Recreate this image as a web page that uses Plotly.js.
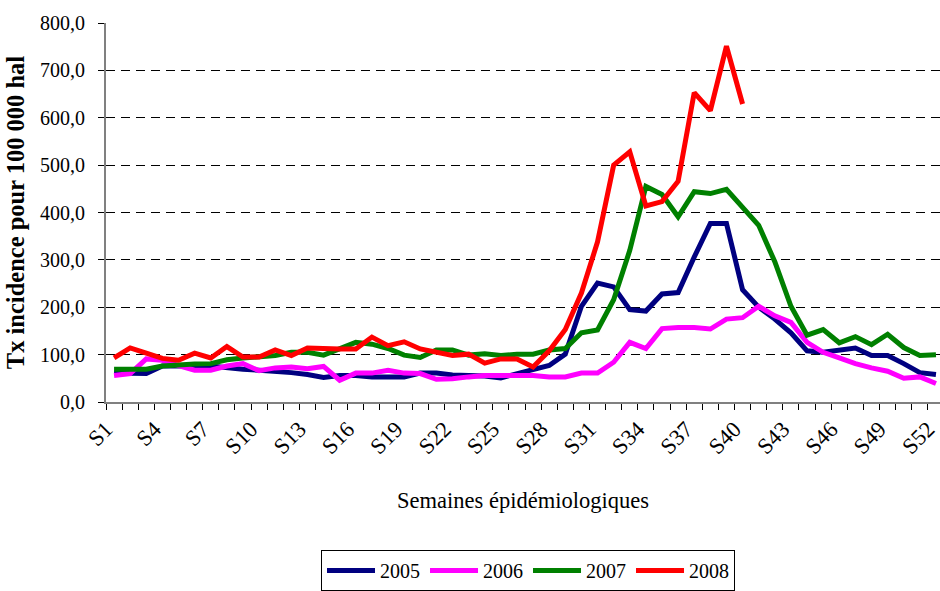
<!DOCTYPE html>
<html>
<head>
<meta charset="utf-8">
<script src="https://cdn.plot.ly/plotly-3.0.1.min.js"></script>
<style>html,body{margin:0;padding:0;background:#fff;}#chart{width:940px;height:591px;}</style>
</head>
<body>
<div id="chart"></div>
<script>
var weeks = [];
for (var w = 1; w <= 52; w++) weeks.push('S' + w);

var y2005 = [61,61,60,76,77,76,76,72,69,67,65,62,58,52,56,56,53,54,53,61,61,57,57,55,51,60,67,77,101,202,251,243,195,192,228,231,306,377,377,237,200,175,146,108,105,110,114,98,98,81,62,58];
var y2006 = [56,60,91,88,77,67,67,76,81,66,72,74,70,75,46,61,61,67,61,60,48,49,53,56,56,56,56,53,53,61,61,84,126,113,155,157,157,154,175,178,202,182,168,126,105,93,81,72,65,50,53,39];
var y2007 = [69,69,69,76,79,80,81,89,93,96,98,105,105,99,112,126,122,113,99,94,110,110,99,102,98,101,101,110,113,146,152,216,320,455,438,391,444,440,449,410,373,296,202,141,153,125,138,121,143,115,98,100];
var y2008 = [93,114,103,92,88,103,93,117,95,95,110,98,114,112,112,112,137,119,127,112,104,98,101,82,91,91,74,108,153,230,338,500,528,414,423,466,653,615,751,629,null,null,null,null,null,null,null,null,null,null,null,null];

var seriesNames = ['2005','2006','2007','2008'];
var seriesValues = [y2005, y2006, y2007, y2008];
var seriesColors = ['#000080','#FF00FF','#008000','#FF0000'];

// every third week is labelled
var tickText = weeks.map(function(s, i){ return i % 3 === 0 ? s : ''; });

var traces = seriesNames.map(function(n, i){
  return {
    type: 'scatter', mode: 'lines', name: n,
    x: weeks, y: seriesValues[i],
    line: {color: seriesColors[i], width: 5},
    connectgaps: false
  };
});

var font = 'Liberation Serif, Times New Roman, serif';
var layout = {
  width: 940, height: 591,
  margin: {l: 106, r: 0, t: 23, b: 184},
  paper_bgcolor: '#fff', plot_bgcolor: '#fff',
  separators: ', ',
  font: {family: font, size: 20, color: '#000'},
  showlegend: true,
  legend: {
    orientation: 'h', x: 0.506, xanchor: 'center', y: -0.392, yanchor: 'top',
    bordercolor: '#000', borderwidth: 1, font: {family: font, size: 20, color: '#000'},
    itemwidth: 48, tracegroupgap: 0
  },
  xaxis: {
    type: 'category', range: [-0.5, 51.25],
    tickmode: 'array', tickvals: weeks, ticktext: tickText,
    tickson: 'boundaries', ticks: 'outside', ticklen: 6, tickwidth: 1, tickcolor: '#000',
    tickangle: -45, ticklabelshift: -8, ticklabelstandoff: 3,
    tickfont: {family: font, size: 22.5, color: '#000'},
    showgrid: false, zeroline: false,
    showline: true, linecolor: '#808080', linewidth: 2,
    title: {text: 'Semaines épidémiologiques', font: {family: font, size: 22.5, color: '#000'}, standoff: 34}
  },
  yaxis: {
    range: [0, 800], dtick: 100, tick0: 0, tickformat: '.1f',
    ticks: 'outside', ticklen: 6, tickwidth: 1, tickcolor: '#000', ticklabelstandoff: 9,
    tickfont: {family: font, size: 20, color: '#000'},
    showgrid: true, gridcolor: '#000', gridwidth: 1, griddash: '9px,6px',
    zeroline: false, showline: true, linecolor: '#808080', linewidth: 2,
    title: {text: 'Tx incidence pour 100 000 hal', font: {family: font, size: 24.5, color: '#000', weight: 'bold'}, standoff: 8}
  }
};

Plotly.newPlot('chart', traces, layout, {staticPlot: true, displayModeBar: false});
</script>
</body>
</html>
